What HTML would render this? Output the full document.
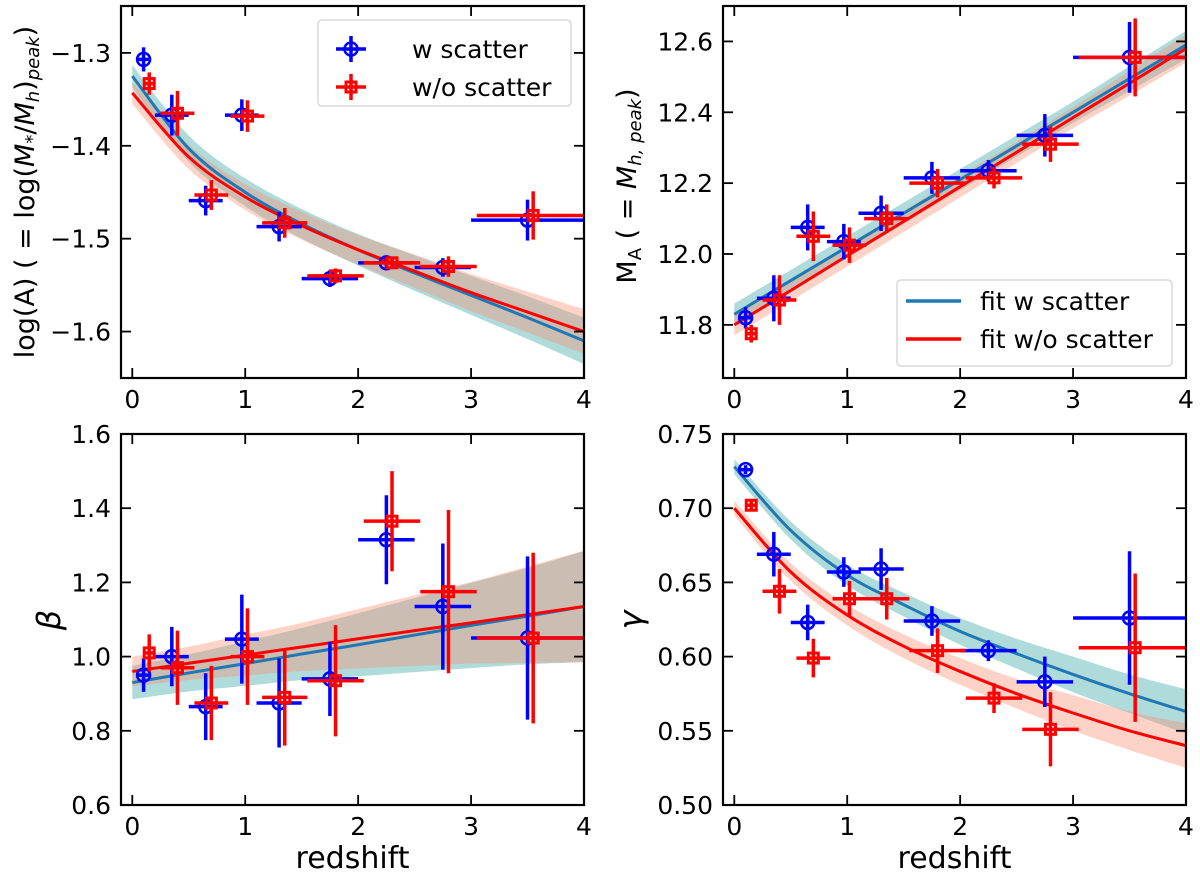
<!DOCTYPE html>
<html><head><meta charset="utf-8"><style>
body{margin:0;background:#fff}
svg{display:block;font-family:"DejaVu Sans","Liberation Sans",sans-serif}
</style></head><body>
<svg id="fig" width="1200" height="880" viewBox="0 0 1200 880" xmlns="http://www.w3.org/2000/svg"></svg>
<script>
// ---- data ----
const zBlue=[0.1,0.35,0.65,0.97,1.3,1.75,2.25,2.75,3.5];
const zRed=[0.15,0.4,0.7,1.02,1.35,1.8,2.3,2.8,3.55];
const zErr=[0.05,0.15,0.15,0.15,0.2,0.25,0.25,0.25,0.5];
const fitZ=[0,0.5,1,1.5,2,2.5,3,3.5,4];

const logA_blue=[-1.307,-1.367,-1.459,-1.367,-1.487,-1.543,-1.526,-1.531,-1.48];
const logA_blueErr=[0.013,0.022,0.016,0.017,0.016,0.009,0.007,0.010,0.022];
const logA_red=[-1.333,-1.365,-1.453,-1.368,-1.483,-1.540,-1.526,-1.530,-1.475];
const logA_redErr=[0.012,0.024,0.016,0.017,0.016,0.008,0.006,0.011,0.026];
const logA_fitBlue=[-1.325,-1.403,-1.450,-1.484,-1.512,-1.537,-1.561,-1.585,-1.61];
const logA_fitRed=[-1.343,-1.412,-1.455,-1.486,-1.512,-1.535,-1.558,-1.579,-1.60];
const logA_bandBlue=[0.012,0.014,0.015,0.016,0.017,0.019,0.021,0.023,0.025];
const logA_bandRed=[0.012,0.013,0.014,0.015,0.016,0.018,0.020,0.022,0.024];

const MA_blue=[11.82,11.875,12.075,12.035,12.115,12.215,12.235,12.335,12.555];
const MA_blueErr=[0.03,0.065,0.065,0.05,0.05,0.045,0.03,0.06,0.1];
const MA_red=[11.775,11.87,12.05,12.025,12.10,12.20,12.215,12.31,12.555];
const MA_redErr=[0.025,0.07,0.07,0.05,0.04,0.04,0.03,0.05,0.11];
const MA_fitBlue=[11.83,11.925,12.02,12.115,12.21,12.305,12.40,12.495,12.59];
const MA_fitRed=[11.80,11.897,11.995,12.092,12.19,12.287,12.385,12.482,12.58];
const MA_bandBlue=[0.03,0.03,0.03,0.03,0.03,0.03,0.03,0.035,0.04];
const MA_bandRed=[0.03,0.03,0.03,0.03,0.03,0.03,0.03,0.035,0.04];

const beta_blue=[0.95,1.0,0.865,1.047,0.875,0.94,1.315,1.135,1.05];
const beta_blueErr=[0.045,0.08,0.09,0.12,0.12,0.1,0.12,0.17,0.22];
const beta_red=[1.01,0.97,0.875,1.0,0.89,0.935,1.365,1.175,1.05];
const beta_redErr=[0.05,0.1,0.1,0.13,0.13,0.15,0.135,0.22,0.23];
const beta_fitBlue=[0.93,0.956,0.981,1.007,1.032,1.058,1.084,1.109,1.135];
const beta_fitRed=[0.96,0.982,1.004,1.026,1.048,1.07,1.091,1.113,1.135];
const beta_bandBlue=[0.045,0.05,0.06,0.07,0.085,0.1,0.115,0.13,0.15];
const beta_bandRed=[0.04,0.045,0.055,0.065,0.08,0.095,0.11,0.13,0.15];

const gam_blue=[0.726,0.669,0.623,0.657,0.659,0.624,0.604,0.583,0.626];
const gam_blueErr=[0.003,0.015,0.012,0.01,0.014,0.01,0.007,0.017,0.045];
const gam_red=[0.702,0.644,0.599,0.639,0.639,0.604,0.572,0.551,0.606];
const gam_redErr=[0.004,0.015,0.013,0.012,0.014,0.015,0.01,0.025,0.05];
const gam_fitBlue=[0.728,0.685,0.655,0.635,0.617,0.602,0.588,0.575,0.563];
const gam_fitRed=[0.700,0.657,0.628,0.607,0.590,0.575,0.562,0.550,0.540];
const gam_bandBlue=[0.005,0.006,0.007,0.008,0.009,0.010,0.012,0.013,0.015];
const gam_bandRed=[0.005,0.006,0.007,0.008,0.009,0.010,0.012,0.013,0.015];

const xTicks=[0,1,2,3,4];
const ticksA=[-1.3,-1.4,-1.5,-1.6];
const ticksMA=[11.8,12.0,12.2,12.4,12.6];
const ticksBeta=[0.6,0.8,1.0,1.2,1.4,1.6];
const ticksGam=[0.50,0.55,0.60,0.65,0.70,0.75];

const NS="http://www.w3.org/2000/svg";
const svg=document.getElementById('fig');
function mk(tag,attrs,parent,name,inter){
  const e=document.createElementNS(NS,tag);
  for(const k in attrs)e.setAttribute(k,attrs[k]);
  
  
  (parent||svg).appendChild(e);return e;
}
function smooth(pts){
  let d='M'+pts[0][0]+','+pts[0][1];
  for(let i=0;i<pts.length-1;i++){
    const p0=pts[Math.max(0,i-1)],p1=pts[i],p2=pts[i+1],p3=pts[Math.min(pts.length-1,i+2)];
    const c1=[p1[0]+(p2[0]-p0[0])/6,p1[1]+(p2[1]-p0[1])/6];
    const c2=[p2[0]-(p3[0]-p1[0])/6,p2[1]-(p3[1]-p1[1])/6];
    d+=' C'+c1+' '+c2+' '+p2;
  }
  return d;
}
function panel(o){
  const g=mk('g',{},svg,o.name,false);
  const L=o.L,R=o.L+463,T=o.T,B=o.B;
  const sx=v=>L+(v+0.1)/4.1*(R-L);
  const sy=v=>B-(v-o.ymin)/(o.ymax-o.ymin)*(B-T);
  const clipId=o.name+'-clip';
  const cp=mk('clipPath',{id:clipId},g,'clip',false);
  mk('rect',{x:L,y:T,width:R-L,height:B-T},cp,'clip-rect',false);
  const pg=mk('g',{'clip-path':'url(#'+clipId+')'},g,'plot-area',false);
  const bands=[[o.fitBlue,o.bandBlue,'rgba(80,175,175,0.45)','band-w-scatter'],[o.fitRed,o.bandRed,'rgba(250,140,110,0.38)','band-wo-scatter']];
  bands.forEach(b=>{
    const up=fitZ.map((z,i)=>[sx(z),sy(b[0][i]+b[1][i])]);
    const lo=fitZ.map((z,i)=>[sx(z),sy(b[0][i]-b[1][i])]).reverse();
    const d=smooth(up)+' L'+lo[0]+' '+smooth(lo).slice(1)+' Z';
    mk('path',{d:d,fill:b[2],stroke:'none'},pg,b[3],false);
  });
  mk('path',{d:smooth(fitZ.map((z,i)=>[sx(z),sy(o.fitBlue[i])])),fill:'none',stroke:'#1f77b4','stroke-width':3},pg,'fit-line-w-scatter',false);
  mk('path',{d:smooth(fitZ.map((z,i)=>[sx(z),sy(o.fitRed[i])])),fill:'none',stroke:'#ff0000','stroke-width':3},pg,'fit-line-wo-scatter',false);
  const series=[[zBlue,o.blue,o.blueErr,'#0000ff','circle','point-w-scatter'],[zRed,o.red,o.redErr,'#ff0000','square','point-wo-scatter']];
  series.forEach(s=>{
    s[0].forEach((z,i)=>{
      const pgp=mk('g',{},pg,s[5],false);
      const x=sx(z),y=sy(s[1][i]);
      mk('line',{x1:sx(z-zErr[i]),x2:sx(z+zErr[i]),y1:y,y2:y,stroke:s[3],'stroke-width':3.5},pgp,'x-errorbar',false);
      mk('line',{x1:x,x2:x,y1:sy(s[1][i]-s[2][i]),y2:sy(s[1][i]+s[2][i]),stroke:s[3],'stroke-width':3.5},pgp,'y-errorbar',false);
      if(s[4]==='circle') mk('circle',{cx:x,cy:y,r:6.5,fill:'none',stroke:s[3],'stroke-width':2.5},pgp,'marker',false);
      else mk('rect',{x:x-5,y:y-5,width:10,height:10,fill:'none',stroke:s[3],'stroke-width':3},pgp,'marker',false);
    });
  });
  mk('rect',{x:L,y:T,width:R-L,height:B-T,fill:'none',stroke:'#000','stroke-width':2.2},g,'axes-frame',false);
  xTicks.forEach(t=>{
    const x=sx(t);
    mk('line',{x1:x,x2:x,y1:B,y2:B-10,stroke:'#000','stroke-width':1.8},g,'x-tick',false);
    mk('line',{x1:x,x2:x,y1:T,y2:T+10,stroke:'#000','stroke-width':1.8},g,'x-tick-top',false);
    const tx=mk('text',{x:x,y:B+30,'text-anchor':'middle','font-size':25},g,'x-tick-label',false);tx.textContent=t;
  });
  o.yticks.forEach(t=>{
    const y=sy(t);
    mk('line',{x1:L,x2:L+10,y1:y,y2:y,stroke:'#000','stroke-width':1.8},g,'y-tick',false);
    mk('line',{x1:R,x2:R-10,y1:y,y2:y,stroke:'#000','stroke-width':1.8},g,'y-tick-right',false);
    const tx=mk('text',{x:L-10,y:y+9,'text-anchor':'end','font-size':25},g,'y-tick-label',false);
    tx.textContent=(t<0?'\u2212':'')+Math.abs(t).toFixed(o.dec);
  });
  if(o.xlabel){const t=mk('text',{x:(L+R)/2,y:868,'text-anchor':'middle','font-size':30},g,'x-axis-title',false);t.textContent='redshift';}
  return {g,L,R,T,B};
}
panel({name:'panel-logA',L:121,T:6,B:378,ymin:-1.65,ymax:-1.2495,dec:1,yticks:ticksA,blue:logA_blue,blueErr:logA_blueErr,red:logA_red,redErr:logA_redErr,fitBlue:logA_fitBlue,fitRed:logA_fitRed,bandBlue:logA_bandBlue,bandRed:logA_bandRed});
panel({name:'panel-MA',L:723,T:6,B:378,ymin:11.65,ymax:12.70,dec:1,yticks:ticksMA,blue:MA_blue,blueErr:MA_blueErr,red:MA_red,redErr:MA_redErr,fitBlue:MA_fitBlue,fitRed:MA_fitRed,bandBlue:MA_bandBlue,bandRed:MA_bandRed});
panel({name:'panel-beta',L:121,T:434,B:805,ymin:0.6,ymax:1.6,dec:1,yticks:ticksBeta,xlabel:true,blue:beta_blue,blueErr:beta_blueErr,red:beta_red,redErr:beta_redErr,fitBlue:beta_fitBlue,fitRed:beta_fitRed,bandBlue:beta_bandBlue,bandRed:beta_bandRed});
panel({name:'panel-gamma',L:723,T:434,B:805,ymin:0.5,ymax:0.75,dec:2,yticks:ticksGam,xlabel:true,blue:gam_blue,blueErr:gam_blueErr,red:gam_red,redErr:gam_redErr,fitBlue:gam_fitBlue,fitRed:gam_fitRed,bandBlue:gam_bandBlue,bandRed:gam_bandRed});
</script>
<svg width="1200" height="880" style="position:absolute;left:0;top:0" font-family="DejaVu Sans, Liberation Sans, sans-serif">
  <text transform="translate(34,192) rotate(-90)" text-anchor="middle" font-size="27">log(A) ( = log(<tspan font-style="italic">M</tspan><tspan font-size="18" dy="4">*</tspan><tspan dy="-4">/</tspan><tspan font-style="italic">M</tspan><tspan font-size="18" font-style="italic" dy="5">h</tspan><tspan dy="-5">)</tspan><tspan font-size="18" font-style="italic" dy="5">peak</tspan><tspan dy="-5">)</tspan></text>
  <text transform="translate(636,186) rotate(-90)" text-anchor="middle" font-size="27">M<tspan font-size="18" dy="5">A</tspan><tspan dy="-5"> ( = </tspan><tspan font-style="italic">M</tspan><tspan font-size="18" font-style="italic" dy="5">h, peak</tspan><tspan dy="-5">)</tspan></text>
  <text transform="translate(60,620) rotate(-90)" text-anchor="middle" font-size="32" font-style="italic">β</text>
  <text transform="translate(642,620) rotate(-90)" text-anchor="middle" font-size="32" font-style="italic">γ</text>
  <g>
    <rect x="318" y="20" width="253" height="86" rx="4" fill="#fff" fill-opacity="0.85" stroke="#d8d8d8" stroke-width="1.5"/>
    <g>
      <line x1="336" x2="366" y1="49" y2="49" stroke="#0000ff" stroke-width="3.5"/>
      <line x1="351" x2="351" y1="36" y2="62" stroke="#0000ff" stroke-width="3.5"/>
      <circle cx="351" cy="49" r="6.5" fill="none" stroke="#0000ff" stroke-width="2.5"/>
      <text x="412" y="58" font-size="25">w scatter</text>
    </g>
    <g>
      <line x1="336" x2="366" y1="87" y2="87" stroke="#ff0000" stroke-width="3.5"/>
      <line x1="351" x2="351" y1="74" y2="100" stroke="#ff0000" stroke-width="3.5"/>
      <rect x="346" y="82" width="10" height="10" fill="none" stroke="#ff0000" stroke-width="3"/>
      <text x="412" y="96" font-size="25">w/o scatter</text>
    </g>
  </g>
  <g>
    <rect x="897" y="280" width="275" height="86" rx="4" fill="#fff" fill-opacity="0.85" stroke="#d8d8d8" stroke-width="1.5"/>
    <g>
      <line x1="906" x2="961" y1="301" y2="301" stroke="#1f77b4" stroke-width="3.5"/>
      <text x="980" y="310" font-size="25">fit w scatter</text>
    </g>
    <g>
      <line x1="906" x2="961" y1="339" y2="339" stroke="#ff0000" stroke-width="3.5"/>
      <text x="980" y="348" font-size="25">fit w/o scatter</text>
    </g>
  </g>
</svg>
</body></html>
